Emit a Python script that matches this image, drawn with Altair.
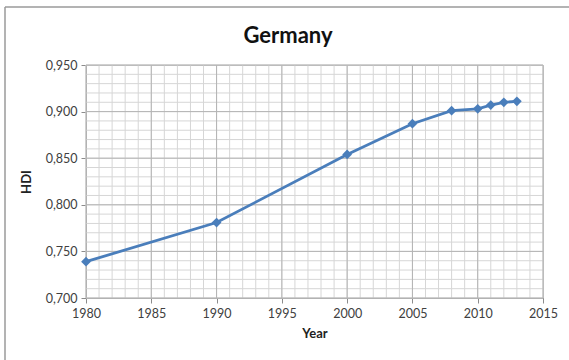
import altair as alt
import pandas as pd

# Human Development Index, Germany
years = [1980, 1990, 2000, 2005, 2008, 2010, 2011, 2012, 2013]
hdi = [0.739, 0.781, 0.854, 0.887, 0.901, 0.903, 0.907, 0.910, 0.911]

major_years = [1980, 1985, 1990, 1995, 2000, 2005, 2010, 2015]
minor_years = list(range(1980, 2016))
major_hdi = [0.70, 0.75, 0.80, 0.85, 0.90, 0.95]
minor_hdi = [round(0.70 + 0.01 * i, 2) for i in range(26)]

chart_title = "Germany"

FONT = "Lato"
BLUE = "#4a7ebb"
W, H = 457, 233

df = pd.DataFrame({"Year": years, "HDI": hdi})

xs = alt.Scale(domain=[1980, 2015], nice=False, zero=False)
ys = alt.Scale(domain=[0.70, 0.95], nice=False, zero=False)

x_axis = alt.Axis(
    values=major_years, format="d", grid=False, title="Year",
    titleFont=FONT, titleFontSize=13, titleFontWeight="bold", titleColor="#222",
    titlePadding=8, labelFont=FONT, labelFontSize=12.5, labelColor="#404040",
    labelPadding=4, labelFlush=False, labelOverlap=False,
    tickSize=5, tickColor="#8c8c8c", domainColor="#8c8c8c",
)
y_axis = alt.Axis(
    values=major_hdi, grid=False, title="HDI",
    labelExpr="replace(format(datum.value, '.3f'), '.', ',')",
    titleFont=FONT, titleFontSize=13, titleFontWeight="bold", titleColor="#222",
    titlePadding=12, labelFont=FONT, labelFontSize=12.5, labelColor="#404040",
    labelPadding=4, labelFlush=False, labelOverlap=False,
    tickSize=5, tickColor="#8c8c8c", domainColor="#8c8c8c",
)

minor_v = alt.Chart(pd.DataFrame({"x": minor_years})).mark_rule(
    color="#d6d6d6", strokeWidth=1
).encode(x=alt.X("x:Q", scale=xs, axis=x_axis))
minor_h = alt.Chart(pd.DataFrame({"y": minor_hdi})).mark_rule(
    color="#d6d6d6", strokeWidth=1
).encode(y=alt.Y("y:Q", scale=ys, axis=y_axis))
major_v = alt.Chart(pd.DataFrame({"x": major_years})).mark_rule(
    color="#b4b4b4", strokeWidth=1
).encode(x=alt.X("x:Q", scale=xs))
major_h = alt.Chart(pd.DataFrame({"y": major_hdi})).mark_rule(
    color="#b4b4b4", strokeWidth=1
).encode(y=alt.Y("y:Q", scale=ys))

line = alt.Chart(df).mark_line(color=BLUE, strokeWidth=2.8).encode(
    x=alt.X("Year:Q", scale=xs), y=alt.Y("HDI:Q", scale=ys)
)
points = alt.Chart(df).mark_point(
    shape="diamond", filled=True, color=BLUE, size=95, opacity=1
).encode(x=alt.X("Year:Q", scale=xs), y=alt.Y("HDI:Q", scale=ys))

one_row = pd.DataFrame({"a": [0]})

# chart heading, centred over the whole chart area
heading = alt.Chart(one_row).mark_text(
    font=FONT, fontSize=22, fontWeight="bold", color="#111",
    align="center", baseline="alphabetic", clip=False,
).encode(text=alt.value(chart_title), x=alt.value(202), y=alt.value(-22))

# outer frame of the chart area (top and left edges)
frame_top = alt.Chart(one_row).mark_rule(
    color="#9a9a9a", strokeWidth=1.5, clip=False
).encode(x=alt.value(-81), x2=alt.value(600), y=alt.value(-58))
frame_left = alt.Chart(one_row).mark_rule(
    color="#9a9a9a", strokeWidth=1.5, clip=False
).encode(x=alt.value(-81), y=alt.value(-58), y2=alt.value(400))

chart = alt.layer(
    minor_v, minor_h, major_v, major_h, line, points,
    heading, frame_top, frame_left,
).properties(
    width=W, height=H,
    autosize=alt.AutoSizeParams(type="none"),
    padding={"left": 86, "top": 65, "right": 26, "bottom": 62},
    background="white",
).configure_view(stroke="#b4b4b4", strokeWidth=1)

chart.save("out.html", embed_options={"renderer": "svg", "actions": False})
